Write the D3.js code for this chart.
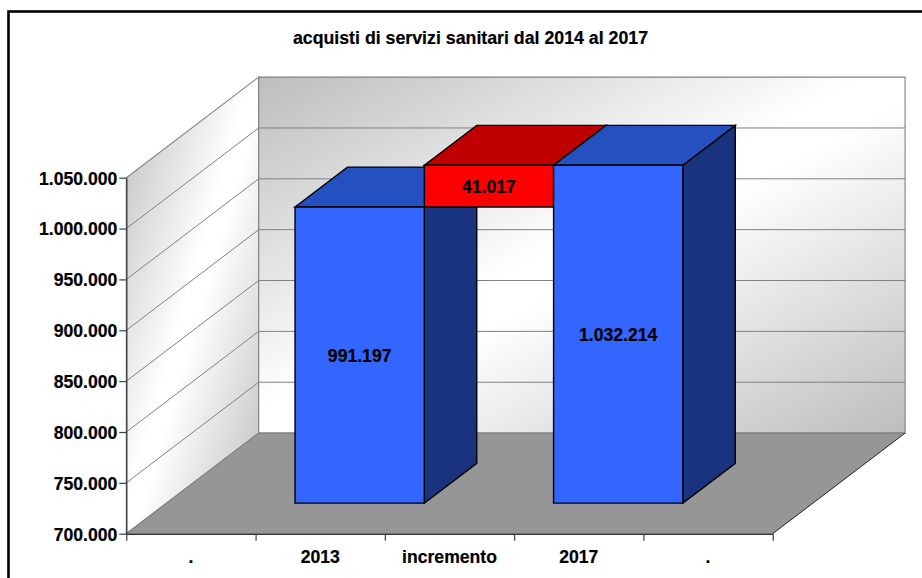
<!DOCTYPE html>
<html>
<head>
<meta charset="utf-8">
<script src="https://cdnjs.cloudflare.com/ajax/libs/d3/7.8.5/d3.min.js"></script>
<style>
html,body{margin:0;padding:0;background:#fff;overflow:hidden}
text{font-family:"Liberation Sans",Arial,sans-serif;font-weight:bold;fill:#000;stroke:#000;stroke-width:0.2px}
</style>
</head>
<body>
<svg id="c" width="922" height="578"></svg>
<script>
const titleText = "acquisti di servizi sanitari dal 2014 al 2017";
const categories = [".", "2013", "incremento", "2017", "."];
const baseValues = [null, 700000, 991197, 700000, null];
const incrementValues = [null, 991197, 41017, 1032214, null];
const yTicks = [700000, 750000, 800000, 850000, 900000, 950000, 1000000, 1050000];

const svg = d3.select("#c");
const defs = svg.append("defs");
const grad = defs.append("linearGradient").attr("id", "wall")
  .attr("x1", 0).attr("y1", 0).attr("x2", 1).attr("y2", 1);
[[0, "#bdbdbd"], [0.47, "#ffffff"], [0.53, "#ffffff"], [1, "#bdbdbd"]].forEach(s =>
  grad.append("stop").attr("offset", s[0]).attr("stop-color", s[1]));

const fmt = v => d3.format(",")(v).replace(/,/g, ".");

const x = d3.scaleLinear().domain([0, categories.length]).range([126.3, 772.7]);
const xBar = d3.scaleLinear().domain([0, categories.length]).range([125.5, 771.9]);
const y = d3.scaleLinear().domain([700000, 1050000]).range([533.7, 177.7]);
const zx = d3.scaleLinear().domain([0, 1]).range([0, 132.4]);
const zy = d3.scaleLinear().domain([0, 1]).range([0, -100.6]);
const P = (i, v, z) => [x(i) + zx(z), y(v) + zy(z)];
const B = (i, v, z) => [xBar(i) + zx(z), y(v) + zy(z)];
const line = d3.line();
const poly = pts => line(pts) + "Z";

// outer frame
svg.append("rect").attr("x", 8.5).attr("y", 11.5).attr("width", 940).attr("height", 600)
  .attr("fill", "#fff").attr("stroke", "#000").attr("stroke-width", 2.6);

// title
svg.append("text").attr("x", 470.5).attr("y", 44).attr("text-anchor", "middle")
  .style("font-size", "17.75px").text(titleText);

const n = categories.length, vMin = y.domain()[0], vMax = y.domain()[1];

// walls
svg.append("path").attr("d", poly([P(0, vMin, 0), P(0, vMax, 0), P(0, vMax, 1), P(0, vMin, 1)]))
  .attr("fill", "url(#wall)").attr("stroke", "#808080").attr("stroke-width", 1.1);
svg.append("path").attr("d", poly([P(0, vMin, 1), P(0, vMax, 1), P(n, vMax, 1), P(n, vMin, 1)]))
  .attr("fill", "url(#wall)").attr("stroke", "#808080").attr("stroke-width", 1.1);

// gridlines
const grid = yTicks.filter(t => t > vMin && t < vMax);
svg.append("g").selectAll("path").data(grid).join("path")
  .attr("d", t => line([P(0, t, 0), P(0, t, 1), P(n, t, 1)]))
  .attr("fill", "none").attr("stroke", "#808080").attr("stroke-width", 1);

// floor
svg.append("path").attr("d", poly([P(0, vMin, 0), P(n, vMin, 0), P(n, vMin, 1), P(0, vMin, 1)]))
  .attr("fill", "#969696").attr("stroke", "none");
svg.append("path").attr("d", line([P(0, vMin, 0), P(0, vMin, 1), P(n, vMin, 1)]))
  .attr("fill", "none").attr("stroke", "#808080").attr("stroke-width", 1.1);
svg.append("path").attr("d", line([P(n, vMin, 0), P(n, vMin, 1)]))
  .attr("fill", "none").attr("stroke", "#222").attr("stroke-width", 1);

// bars
const zF = 0.304, zB = 0.70;
const colors = {
  blue: {front: "#3366ff", top: "#2550bf", side: "#19337f"},
  red: {front: "#ff0000", top: "#bf0000", side: "#7f0000"}
};
function box(i, v0, v1, c) {
  const g = svg.append("g").attr("stroke", "#000").attr("stroke-width", 1.4).attr("stroke-linejoin", "miter");
  g.append("path").attr("d", poly([B(i + 1, v0, zF), B(i + 1, v1, zF), B(i + 1, v1, zB), B(i + 1, v0, zB)])).attr("fill", c.side);
  g.append("path").attr("d", poly([B(i, v1, zF), B(i + 1, v1, zF), B(i + 1, v1, zB), B(i, v1, zB)])).attr("fill", c.top);
  g.append("path").attr("d", poly([B(i, v0, zF), B(i + 1, v0, zF), B(i + 1, v1, zF), B(i, v1, zF)])).attr("fill", c.front);
}
const labels = [];
categories.forEach((c, i) => {
  if (incrementValues[i] == null) return;
  const base = baseValues[i];
  const isDelta = base !== 700000;
  const v0 = isDelta ? base : vMin;
  const v1 = isDelta ? base + incrementValues[i] : incrementValues[i];
  box(i, v0, v1, isDelta ? colors.red : colors.blue);
  labels.push({i, v0, v1, t: fmt(incrementValues[i])});
});
svg.append("g").selectAll("text").data(labels).join("text")
  .attr("text-anchor", "middle")
  .attr("x", d => B(d.i + 0.5, d.v0, zF)[0])
  .attr("y", d => (B(d.i, d.v0, zF)[1] + B(d.i, d.v1, zF)[1]) / 2 + 6.5)
  .style("font-size", "17.6px").text(d => d.t);

// y axis
const yAxis = svg.append("g").attr("transform", `translate(${x(0)},0)`)
  .call(d3.axisLeft(y).tickValues(yTicks).tickFormat(fmt).tickSize(7).tickSizeOuter(0));
yAxis.select(".domain").attr("stroke", "#404040").attr("stroke-width", 1.4);
yAxis.selectAll(".tick line").attr("stroke", "#404040").attr("stroke-width", 1.2);
yAxis.selectAll(".tick text").attr("x", -9).attr("dy", "0.36em").style("font-size", "17.6px");

// x axis
const xAxis = svg.append("g").attr("transform", `translate(0,${y(vMin)})`)
  .call(d3.axisBottom(x).tickValues(d3.range(n + 1)).tickFormat("").tickSize(7).tickSizeOuter(0));
xAxis.select(".domain").attr("stroke", "#333").attr("stroke-width", 1.6);
xAxis.selectAll(".tick line").attr("stroke", "#404040").attr("stroke-width", 1.2);
svg.append("g").selectAll("text").data(categories).join("text")
  .attr("text-anchor", "middle")
  .attr("x", (d, i) => x(i + 0.5)).attr("y", 563)
  .style("font-size", "17.6px").text(d => d);
</script>
</body>
</html>
